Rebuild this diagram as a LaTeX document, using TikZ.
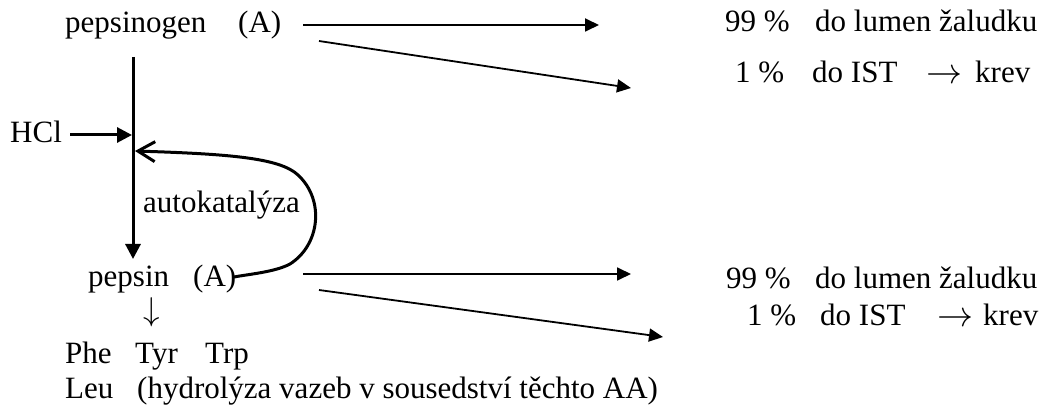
\documentclass[tikz,border=0pt]{standalone}
\usepackage{fontspec}
\usepackage{graphicx}
\setmainfont{Liberation Serif}
\usetikzlibrary{arrows.meta}
\begin{document}
\begin{tikzpicture}[x=1pt,y=-1pt,
  txt/.style={anchor=base west,inner sep=0pt,font=\fontsize{31}{37}\selectfont},
  sym/.style={anchor=center,inner sep=0pt},
  thin arr/.style={line width=1.8pt,-{Triangle[length=14pt,width=13pt]}},
  thick arr/.style={line width=3pt,-{Triangle[length=15pt,width=15pt]}},
  loop arr/.style={line width=3pt,-{Straight Barb[length=17pt,width=20pt]}}]
\useasboundingbox (0,0) rectangle (1039,406);
% texts
\node[txt] (pg) at (65,33) {pepsinogen};
\node[txt] (pgA) at (238,33) {(A)};
\node[txt] (hcl) at (10,143) {HCl};
\node[txt] (auto) at (143,213) {autokatalýza};
\node[txt] (ps) at (88,287) {pepsin};
\node[txt] (psA) at (193,287) {(A)};
\node[sym] (down) at (152,320) {\smash{\scalebox{3.3}{$\downarrow$}}};
\node[txt] (phe) at (65,363) {Phe};
\node[txt] (tyr) at (135,363) {Tyr};
\node[txt] (trp) at (205,363) {Trp};
\node[txt] (leu) at (65,398) {Leu};
\node[txt] (hyd) at (137,398) {(hydrolýza vazeb v sousedství těchto AA)};
% right texts upper
\node[txt] (p1) at (725,32) {99 \%};
\node[txt] (l1) at (815,32) {do lumen žaludku};
\node[txt] (q1) at (735,83) {1 \%};
\node[txt] (i1) at (812,83) {do IST};
\node[sym] (r1) at (944.5,84) {\smash{\scalebox{3.6}{$\rightarrow$}}};
\node[txt] (k1) at (975,83) {krev};
% right texts lower
\node[txt] (p2) at (726,288) {99 \%};
\node[txt] (l2) at (815,288) {do lumen žaludku};
\node[txt] (q2) at (747,325) {1 \%};
\node[txt] (i2) at (820,325) {do IST};
\node[sym] (r2) at (955,326) {\smash{\scalebox{3.6}{$\rightarrow$}}};
\node[txt] (k2) at (983,325) {krev};
% coordinates
\coordinate (a1s) at (303,25);  \coordinate (a1e) at (599,25);
\coordinate (a2s) at (319,41);  \coordinate (a2e) at (631,88);
\coordinate (b1s) at (303,274); \coordinate (b1e) at (631,274);
\coordinate (b2s) at (319,290); \coordinate (b2e) at (663,337);
\coordinate (vs) at (133,57);   \coordinate (ve) at (133,259);
\coordinate (hs) at (70,135);   \coordinate (he) at (132,135);
\coordinate (ls) at (234,277);  \coordinate (le) at (135,151);
% arrows
\draw[thin arr] (a1s) -- (a1e);
\draw[thin arr] (a2s) -- (a2e);
\draw[thin arr] (b1s) -- (b1e);
\draw[thin arr] (b2s) -- (b2e);
\draw[thick arr] (vs) -- (ve);
\draw[thick arr] (hs) -- (he);
\draw[loop arr] (ls) .. controls (250,274) and (275,272) .. (290,264)
  .. controls (320,245) and (325,200) .. (298,175)
  .. controls (280,158) and (230,154) .. (le);
\end{tikzpicture}
\end{document}
